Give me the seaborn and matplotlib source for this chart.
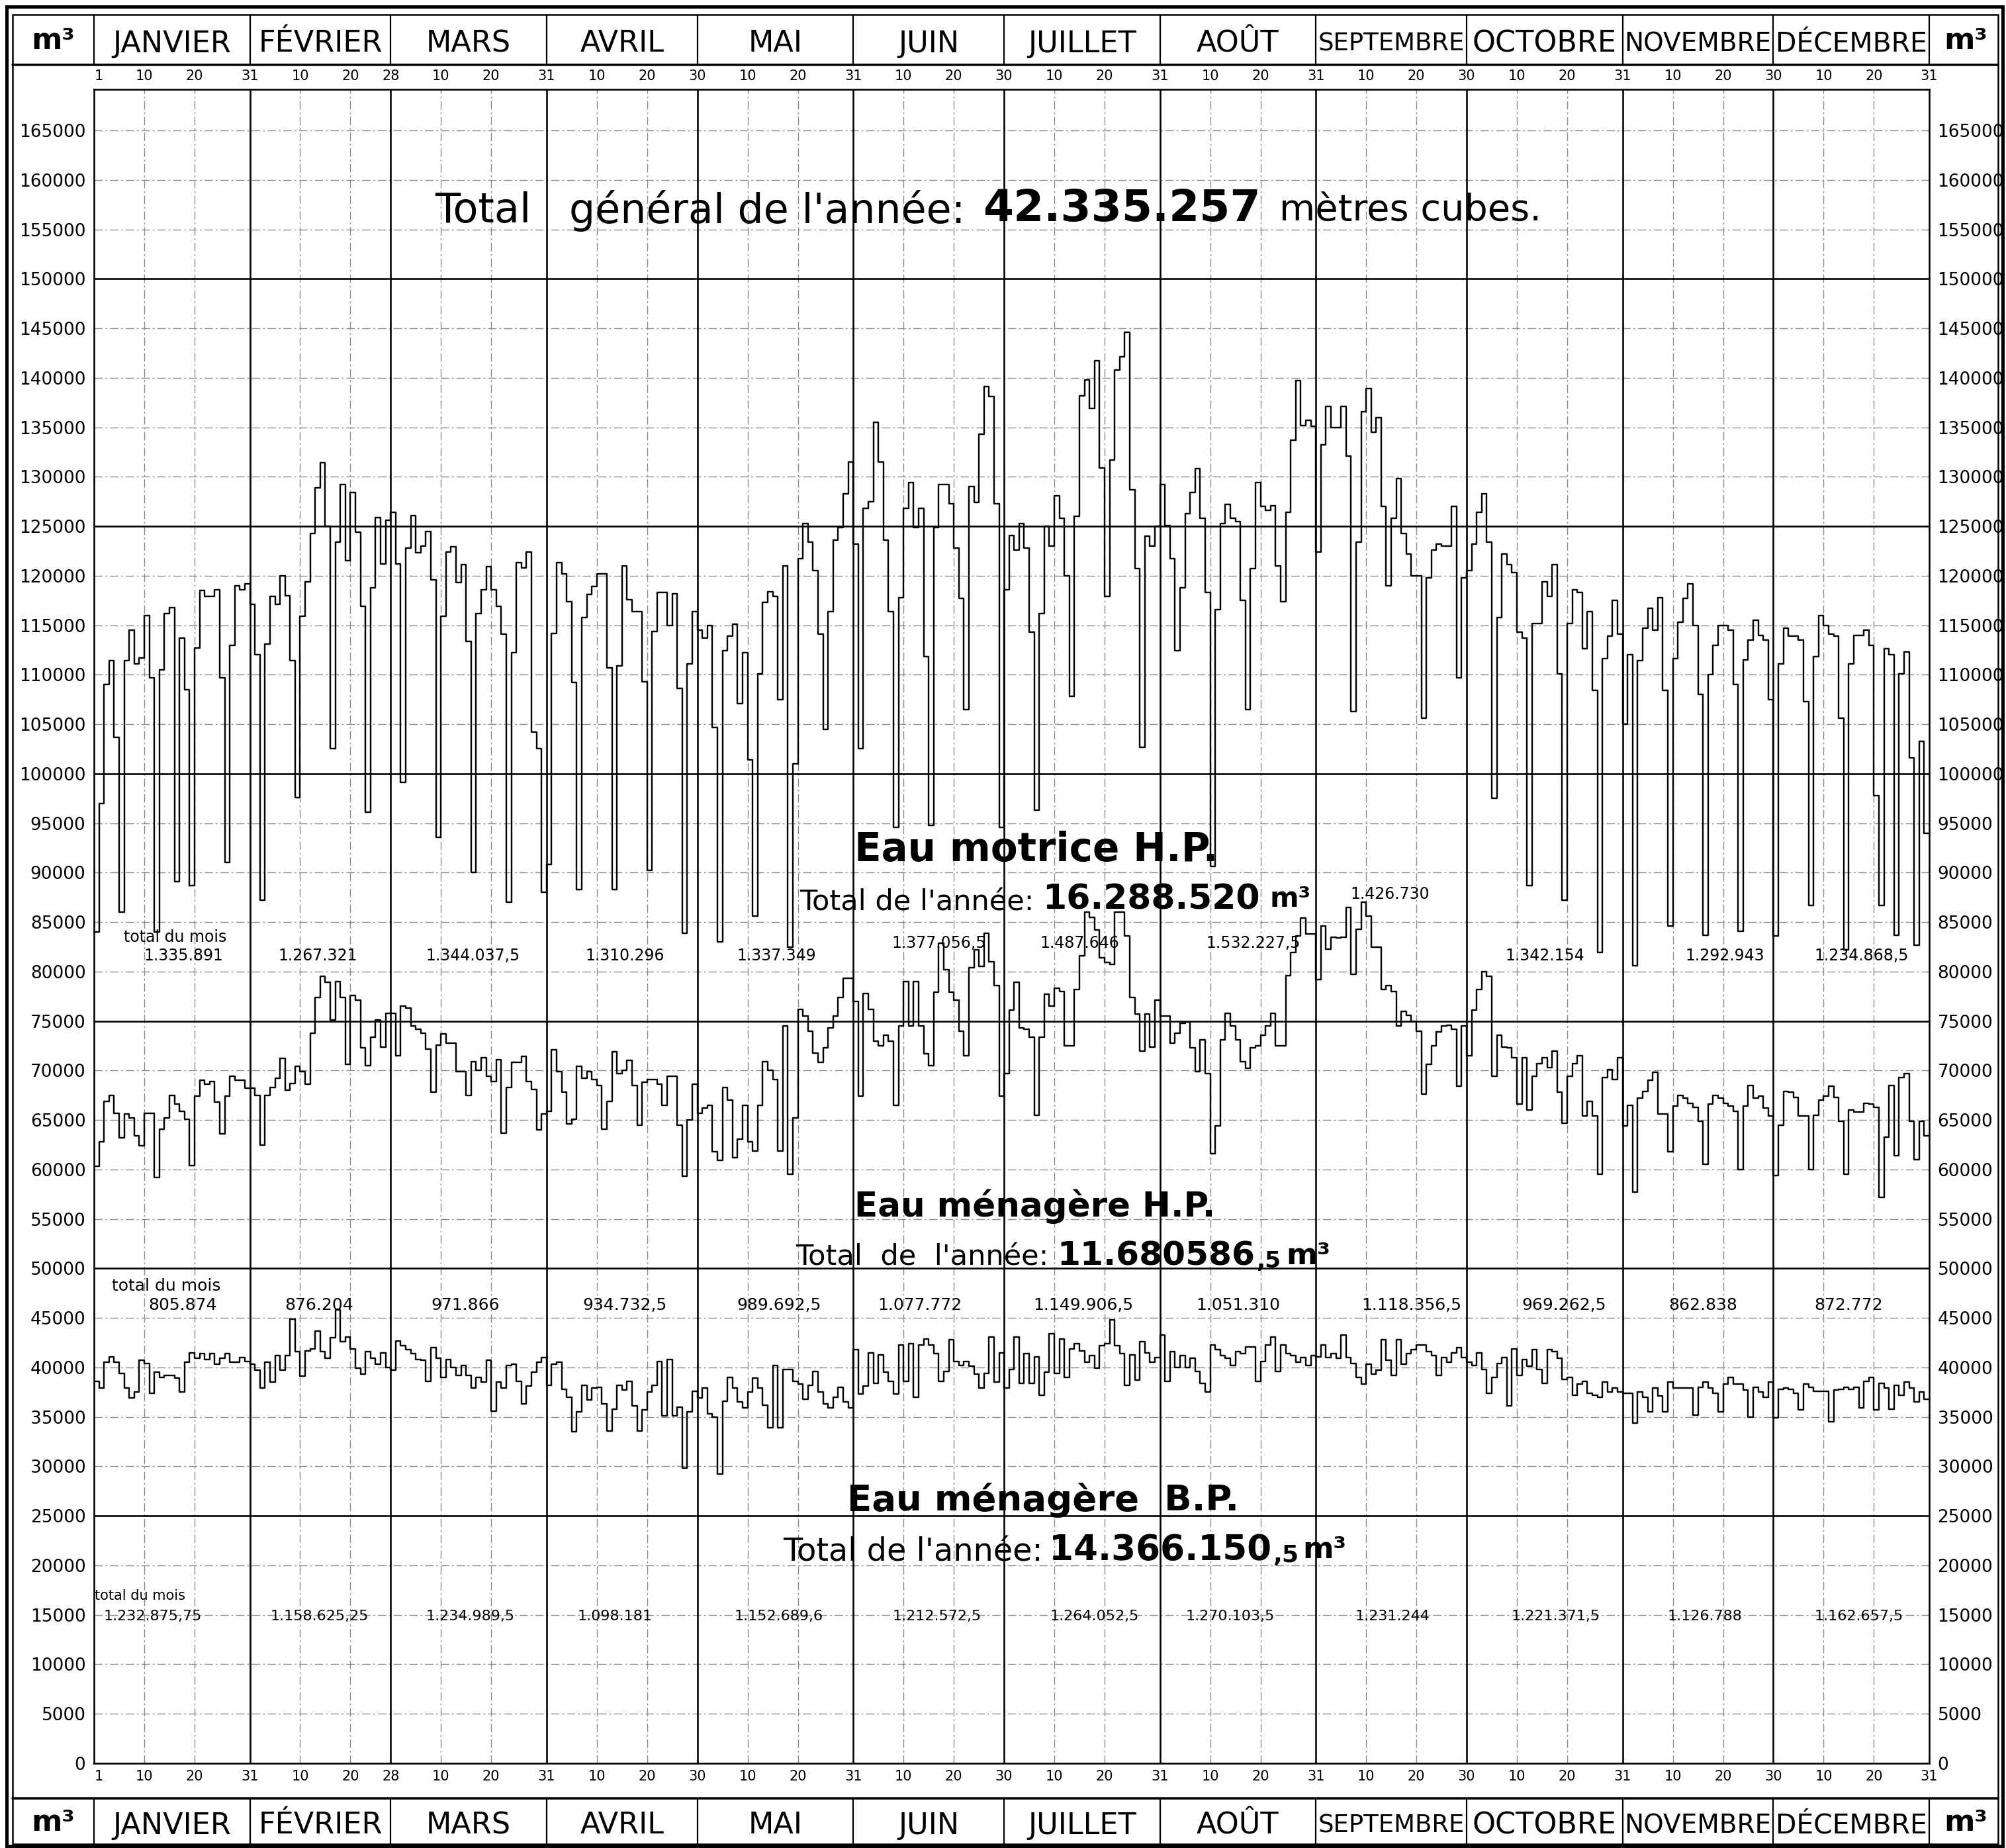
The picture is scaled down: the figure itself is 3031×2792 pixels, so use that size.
import numpy as np
import pandas as pd
import matplotlib
matplotlib.use("Agg")
import matplotlib.pyplot as plt
import matplotlib.transforms as mtransforms
from matplotlib.lines import Line2D
from matplotlib import font_manager
import seaborn as sns

# Consommation journaliere d'eau sous pression sur l'annee (m3 par jour)
mois = ["JANVIER", "FÉVRIER", "MARS", "AVRIL", "MAI", "JUIN",
        "JUILLET", "AOÛT", "SEPTEMBRE", "OCTOBRE", "NOVEMBRE", "DÉCEMBRE"]
jours_mois = [31, 28, 31, 30, 31, 30, 31, 31, 30, 31, 30, 31]

# courbe du haut : total general (milliers de m3), un mois par bloc
total_general = [
    84.0, 97.0, 109.0, 111.4, 103.7, 86.0, 111.4, 114.5, 111.1, 111.7,
    116.0, 109.7, 84.0, 110.5, 116.2, 116.8, 89.1, 113.7, 108.5, 88.7,
    112.7, 118.5, 117.9, 117.9, 118.6, 109.7, 91.0, 113.0, 119.0, 118.6, 119.2,
    117.1, 112.0, 87.2, 113.1, 117.9, 117.1, 120.0, 118.0, 111.4, 97.6,
    115.9, 119.4, 124.3, 128.9, 131.4, 125.0, 102.5, 123.4, 129.2, 121.5,
    128.4, 124.4, 116.9, 96.1, 118.8, 125.9, 121.2, 125.6,
    126.4, 121.2, 99.1, 122.8, 126.1, 122.3, 123.0, 124.5, 119.6, 93.6,
    115.9, 122.4, 122.9, 119.3, 121.1, 113.4, 90.0, 116.2, 118.6, 120.9,
    118.6, 116.9, 114.1, 87.0, 112.2, 121.3, 120.8, 122.4, 104.2, 102.5, 88.0,
    90.8, 114.2, 121.3, 120.2, 117.4, 109.2, 88.3, 115.8, 118.1, 118.9,
    120.2, 120.2, 110.7, 88.3, 110.9, 121.0, 117.6, 116.4, 116.4, 109.3,
    90.2, 114.4, 118.3, 118.3, 115.0, 118.2, 108.6, 83.9, 111.1, 116.4,
    114.5, 113.7, 115.0, 104.7, 83.0, 112.4, 113.9, 115.1, 107.1, 112.2,
    101.4, 85.6, 110.1, 117.3, 118.4, 117.9, 107.5, 121.0, 82.5, 101.0,
    121.7, 125.3, 123.4, 120.5, 114.1, 104.5, 116.4, 123.6, 124.9, 128.3, 131.5,
    123.2, 102.5, 126.8, 127.5, 135.5, 131.5, 123.6, 116.4, 94.6, 117.8,
    126.8, 129.4, 124.9, 126.8, 111.8, 94.8, 124.9, 129.2, 129.2, 127.3,
    122.8, 117.7, 106.5, 129.0, 127.4, 134.3, 139.1, 138.1, 127.3, 94.6,
    118.6, 124.1, 122.6, 125.3, 122.8, 114.3, 96.3, 116.2, 125.0, 123.0,
    128.1, 125.8, 120.0, 107.8, 126.0, 138.2, 139.8, 136.9, 141.7, 130.9,
    117.9, 131.7, 140.8, 142.1, 144.6, 128.7, 120.7, 102.7, 124.0, 123.0, 125.0,
    129.2, 125.1, 121.7, 112.4, 118.8, 126.3, 128.4, 130.8, 125.8, 118.3,
    90.6, 116.6, 125.3, 127.2, 125.8, 125.5, 117.5, 106.5, 120.7, 129.4,
    127.0, 126.6, 127.1, 121.0, 117.4, 126.4, 133.7, 139.7, 135.2, 135.7, 135.1,
    122.4, 133.2, 137.1, 135.0, 135.0, 137.1, 132.1, 106.3, 123.4, 136.6,
    138.9, 134.5, 136.0, 127.0, 119.0, 125.8, 129.8, 124.3, 122.2, 120.0,
    120.0, 105.6, 119.8, 122.6, 123.2, 123.0, 123.0, 127.0, 109.7, 119.8,
    120.5, 123.2, 126.4, 128.3, 123.4, 97.5, 115.8, 122.2, 121.1, 120.3,
    114.3, 113.7, 88.7, 115.2, 115.2, 119.4, 117.9, 121.1, 110.1, 87.2,
    115.2, 118.6, 118.3, 112.6, 116.4, 108.4, 81.9, 111.6, 113.9, 117.5, 114.1,
    105.0, 112.0, 80.6, 111.4, 114.7, 116.7, 114.5, 117.8, 108.4, 84.6,
    111.6, 115.3, 117.7, 119.2, 115.0, 108.0, 83.7, 110.0, 113.0, 115.0,
    115.0, 114.5, 109.0, 84.1, 111.5, 113.5, 115.5, 114.0, 113.5, 107.5,
    83.6, 111.1, 114.7, 113.9, 113.9, 113.5, 107.3, 86.7, 111.8, 116.0,
    115.0, 114.1, 113.9, 105.6, 82.2, 111.1, 114.0, 114.0, 114.5, 113.0,
    97.8, 86.7, 112.6, 112.0, 83.7, 110.1, 112.3, 101.6, 82.7, 103.3, 94.0,
]

# courbe du milieu : eau menagere B.P. + H.P. (milliers de m3)
menagere_cumul = [
    60.3, 62.8, 66.9, 67.5, 65.7, 63.2, 65.6, 65.2, 63.4, 62.4,
    65.7, 65.7, 59.2, 64.1, 65.2, 67.5, 66.6, 65.9, 65.1, 60.4,
    67.4, 69.0, 68.6, 68.9, 66.8, 63.6, 67.4, 69.4, 69.0, 69.0, 68.2,
    68.2, 67.5, 62.5, 67.5, 68.3, 69.2, 71.2, 68.0, 68.7, 70.4,
    69.9, 68.6, 73.8, 77.4, 79.5, 78.9, 75.1, 79.0, 77.4, 70.6,
    77.6, 77.1, 72.3, 70.5, 73.4, 75.1, 72.4, 75.8,
    75.8, 71.5, 76.5, 76.3, 74.5, 74.2, 73.8, 72.2, 67.8, 72.6,
    73.7, 72.8, 72.8, 69.9, 69.9, 67.5, 70.9, 70.0, 71.3, 69.4,
    68.9, 71.1, 63.7, 68.3, 70.8, 70.8, 71.4, 68.9, 68.1, 64.0, 65.6,
    65.9, 72.1, 69.9, 67.8, 64.6, 65.1, 70.4, 69.2, 69.9, 69.1,
    68.5, 64.1, 66.9, 71.9, 69.7, 70.0, 71.0, 68.5, 64.5, 68.8,
    69.1, 69.1, 68.6, 66.5, 69.4, 69.4, 64.5, 59.3, 65.0, 68.6,
    65.7, 66.2, 66.5, 61.8, 60.9, 68.3, 67.0, 61.2, 63.1, 66.5,
    62.8, 61.9, 66.5, 70.9, 70.0, 69.1, 61.9, 74.5, 59.5, 65.2,
    76.2, 75.5, 74.0, 71.8, 70.8, 72.3, 74.3, 75.5, 77.4, 79.3, 79.3,
    77.0, 67.4, 77.8, 76.2, 73.0, 72.5, 73.6, 73.0, 66.5, 74.5,
    79.0, 74.5, 79.0, 74.5, 71.7, 70.5, 77.9, 82.9, 80.2, 77.9,
    77.1, 74.0, 71.5, 80.4, 82.2, 80.5, 83.9, 81.0, 78.6, 67.4,
    69.7, 76.1, 78.9, 74.3, 74.2, 73.4, 65.5, 73.4, 77.7, 76.5,
    78.3, 78.0, 72.5, 72.5, 78.2, 81.6, 86.0, 85.5, 84.2, 81.4,
    80.9, 80.7, 86.0, 86.0, 83.6, 77.4, 75.7, 72.0, 75.7, 72.4, 77.1,
    75.5, 75.5, 72.8, 73.8, 74.8, 74.9, 72.3, 69.9, 73.1, 69.7,
    61.6, 64.4, 73.1, 75.8, 74.5, 73.1, 70.9, 70.2, 72.3, 72.5,
    73.6, 74.5, 75.8, 72.5, 72.5, 79.6, 81.9, 83.6, 85.4, 83.8, 83.8,
    79.2, 84.6, 82.3, 83.5, 83.4, 83.5, 86.5, 79.7, 84.3, 87.0,
    85.6, 82.5, 82.5, 78.2, 78.6, 78.0, 74.5, 76.0, 75.6, 75.0,
    74.0, 67.6, 70.6, 72.5, 73.9, 74.5, 74.6, 74.2, 68.4, 74.5,
    71.5, 76.1, 78.2, 80.0, 79.5, 69.4, 73.6, 72.4, 72.3, 71.3,
    66.6, 71.3, 66.0, 69.4, 70.7, 71.3, 70.3, 72.0, 67.8, 64.7,
    69.4, 70.7, 71.5, 65.4, 66.9, 65.4, 59.5, 69.3, 70.1, 69.1, 71.3,
    64.4, 66.5, 57.7, 67.2, 67.9, 69.0, 69.8, 65.6, 65.6, 61.8,
    66.4, 67.5, 67.2, 66.7, 66.3, 64.9, 60.5, 66.6, 67.5, 67.2,
    66.7, 66.4, 65.9, 60.0, 66.4, 68.5, 67.2, 67.4, 66.2, 65.4,
    59.4, 64.5, 67.9, 67.8, 67.3, 65.4, 65.4, 60.0, 65.5, 67.0,
    67.4, 68.4, 67.3, 64.9, 59.5, 66.0, 65.8, 65.8, 66.7, 66.6,
    66.3, 57.2, 63.3, 68.5, 61.4, 69.3, 69.7, 64.9, 61.0, 64.9, 63.4,
]

# courbe du bas : eau menagere B.P. (milliers de m3)
menagere_bp = [
    38.6, 37.9, 40.5, 41.1, 40.5, 39.4, 37.9, 36.9, 37.5, 40.7,
    40.4, 37.4, 39.5, 39.0, 39.2, 39.2, 38.9, 37.5, 40.5, 41.5,
    40.9, 41.4, 40.8, 41.4, 40.3, 40.9, 41.4, 40.5, 40.5, 41.0, 40.6,
    40.3, 39.7, 37.9, 40.5, 38.5, 41.2, 39.7, 41.2, 44.9, 41.6,
    39.1, 41.7, 41.9, 43.7, 41.6, 40.9, 43.0, 45.8, 42.6, 43.1,
    41.9, 39.9, 39.3, 41.6, 40.9, 40.3, 41.5, 40.0,
    39.7, 42.7, 42.2, 41.8, 41.4, 40.8, 40.7, 38.6, 42.0, 40.9,
    39.0, 40.8, 40.0, 39.2, 40.2, 39.2, 37.9, 39.0, 38.5, 40.7,
    35.6, 38.5, 37.9, 40.2, 40.3, 38.6, 36.3, 38.1, 39.5, 40.5, 41.0,
    38.2, 40.3, 40.5, 37.8, 37.0, 33.5, 35.5, 38.2, 36.7, 37.9,
    38.0, 36.3, 33.6, 35.8, 38.2, 37.7, 38.6, 36.1, 33.6, 35.7,
    37.5, 38.2, 40.6, 35.1, 40.8, 35.1, 36.0, 29.8, 35.5, 37.6,
    36.9, 37.9, 35.3, 35.0, 29.2, 36.6, 39.0, 37.9, 36.5, 35.9,
    37.5, 38.9, 37.9, 36.2, 33.9, 40.2, 33.9, 39.8, 39.8, 38.6,
    38.3, 36.8, 38.2, 39.6, 37.5, 36.3, 35.9, 37.0, 38.0, 36.5, 35.9,
    41.8, 37.3, 38.1, 41.5, 38.4, 41.3, 39.5, 38.6, 37.3, 42.3,
    38.6, 42.4, 37.0, 42.3, 42.9, 42.3, 41.4, 38.6, 39.6, 42.8,
    40.6, 40.2, 40.6, 40.1, 39.3, 37.9, 39.4, 43.1, 38.5, 41.5,
    37.9, 39.8, 43.1, 38.4, 41.4, 38.4, 41.1, 37.2, 39.5, 43.4,
    39.4, 42.9, 39.0, 41.9, 42.4, 41.7, 40.5, 41.2, 39.9, 42.2,
    42.4, 44.8, 42.2, 41.4, 38.2, 41.3, 38.7, 42.6, 41.5, 40.5, 41.0,
    43.3, 38.6, 41.6, 40.0, 41.2, 40.0, 40.9, 39.6, 38.4, 37.5,
    42.3, 41.8, 41.2, 40.9, 40.2, 41.6, 41.4, 42.1, 42.1, 38.6,
    40.6, 42.3, 43.1, 39.6, 42.3, 41.4, 41.2, 40.5, 41.0, 40.2, 41.2,
    41.1, 42.3, 41.0, 41.4, 40.9, 43.3, 41.0, 40.4, 39.0, 38.3,
    40.3, 39.3, 39.7, 42.8, 40.7, 39.2, 42.8, 40.3, 41.4, 41.8,
    42.3, 42.3, 41.6, 41.2, 39.2, 41.0, 40.5, 41.5, 42.0, 41.0,
    40.5, 40.2, 41.5, 39.8, 37.4, 39.0, 40.4, 41.0, 36.1, 41.9,
    39.2, 40.8, 40.1, 41.8, 39.8, 38.4, 41.8, 41.6, 40.9, 38.8,
    39.0, 37.2, 38.3, 38.6, 37.4, 37.2, 37.0, 38.5, 37.5, 37.9, 37.5,
    37.4, 37.4, 34.4, 37.5, 37.0, 35.5, 37.9, 37.1, 35.5, 38.5,
    37.9, 37.9, 37.9, 37.9, 35.2, 38.0, 38.5, 37.9, 37.4, 35.5,
    38.3, 39.0, 38.3, 38.3, 37.7, 35.0, 38.0, 37.5, 37.0, 38.5,
    34.9, 37.8, 37.9, 37.8, 37.4, 35.7, 38.3, 38.0, 37.6, 37.6,
    37.6, 34.5, 37.7, 37.8, 38.0, 37.8, 38.0, 35.9, 38.6, 39.0,
    35.7, 38.4, 37.9, 35.8, 38.2, 37.2, 38.5, 37.9, 36.5, 37.5, 36.8,
]

# totaux du mois ecrits sur le graphique
total_mois_motrice = ["1.335.891", "1.267.321", "1.344.037,5", "1.310.296", "1.337.349", "1.377.056,5",
                      "1.487.646", "1.532.227,5", "1.426.730", "1.342.154", "1.292.943", "1.234.868,5"]
total_mois_menagere_hp = ["805.874", "876.204", "971.866", "934.732,5", "989.692,5", "1.077.772",
                          "1.149.906,5", "1.051.310", "1.118.356,5", "969.262,5", "862.838", "872.772"]
total_mois_menagere_bp = ["1.232.875,75", "1.158.625,25", "1.234.989,5", "1.098.181", "1.152.689,6", "1.212.572,5",
                          "1.264.052,5", "1.270.103,5", "1.231.244", "1.221.371,5", "1.126.788", "1.162.657,5"]

# emplacement des totaux (jour de l'annee, m3)
x_motrice = [17.8, 44.5, 75.4, 105.6, 135.7, 168.0, 196.0, 230.6, 257.8, 288.6, 324.3, 351.5]
y_motrice = [81600] * 5 + [82900] * 3 + [87800] + [81600] * 3
x_hp = [17.6, 44.8, 73.9, 105.6, 136.2, 164.2, 196.7, 227.5, 262.0, 292.4, 320.0, 349.0]
x_bp = [11.7, 44.8, 74.8, 103.6, 136.2, 167.7, 199.0, 226.0, 258.3, 290.7, 320.4, 351.0]

W, H = 3031, 2792
AX_L, AX_R, AX_T, AX_B = 142, 2915, 135, 2664
Y_MAX = 169150

sns.set_theme(style="white")
plt.rcParams["font.family"] = ["DejaVu Sans"]
plt.rcParams["text.color"] = "black"
plt.rcParams["xtick.color"] = "black"
plt.rcParams["ytick.color"] = "black"
dispo = {f.name for f in font_manager.fontManager.ttflist}
etroite = "Liberation Sans Narrow" if "Liberation Sans Narrow" in dispo else "DejaVu Sans"


def fx(px):
    return px / W


def fy(py):
    return 1 - py / H


def lw(px):
    return px * 72 / 100


fig = plt.figure(figsize=(W / 100, H / 100), dpi=100)
fig.patch.set_facecolor("white")
ax = fig.add_axes([fx(AX_L), fy(AX_B), fx(AX_R) - fx(AX_L), fy(AX_T) - fy(AX_B)])

jours = np.arange(366)
frames = []
for nom, vals in [("total", total_general), ("menagere", menagere_cumul), ("bp", menagere_bp)]:
    v = np.array(vals) * 1000
    assert len(v) == 365, (nom, len(v))
    frames.append(pd.DataFrame({"jour": jours, "m3": np.append(v, v[-1]), "courbe": nom}))
df = pd.concat(frames, ignore_index=True)

# grille
debuts = np.cumsum([0] + jours_mois)
grille = dict(color="0.55", lw=lw(1.4), ls=(0, (9, 3, 2, 3)), zorder=1)
for d in debuts[:-1]:
    ax.axvline(d + 10, **grille)
    ax.axvline(d + 20, **grille)
for d in debuts[1:-1]:
    ax.axvline(d, color="black", lw=lw(2.6), zorder=2)
for v in range(5000, 170000, 5000):
    if v % 25000 == 0:
        ax.axhline(v, color="black", lw=lw(2.6), zorder=2)
    else:
        ax.axhline(v, **grille)

sns.lineplot(data=df, x="jour", y="m3", units="courbe", estimator=None, color="black",
             lw=lw(2.4), drawstyle="steps-post", legend=False, ax=ax, zorder=3)
ax.set_xlabel("")
ax.set_ylabel("")

for s in ax.spines.values():
    s.set_color("black")
    s.set_linewidth(lw(2.6))

pos, lab = [1], ["1"]
for d, n in zip(debuts[:-1], jours_mois):
    pos += [d + 10, d + 20, d + n]
    lab += ["10", "20", str(n)]
ax.set_xticks(pos)
ax.set_xticklabels(lab)
ax.tick_params(axis="x", length=0, top=True, labeltop=True, bottom=True, labelbottom=True,
               labelsize=15, pad=7, labelcolor="black")

yt = np.arange(0, 170000, 5000)
ax.set_yticks(yt)
ax.set_yticklabels([str(v) for v in yt])
ax.tick_params(axis="y", length=0, left=True, right=True, labelleft=True, labelright=True,
               labelsize=22 if etroite != "DejaVu Sans" else 19, pad=9, labelcolor="black")
for t in ax.yaxis.get_major_ticks():
    t.label1.set_fontfamily(etroite)
    t.label2.set_fontfamily(etroite)

ax.set_xlim(0, 365)
ax.set_ylim(0, Y_MAX)

renderer = fig.canvas.get_renderer()


def ajuste(t, largeur, seulement_reduire=False):
    w = t.get_window_extent(renderer).width
    if seulement_reduire and w <= largeur:
        return
    t.set_fontsize(t.get_fontsize() * largeur / w)


# en-tetes des mois (haut et bas)
trans = mtransforms.blended_transform_factory(ax.transData, fig.transFigure)
for y0, y1, yt_ in [(23, 98, 66), (2717, 2786, 2758)]:
    for d in debuts:
        ax.plot([d, d], [fy(y0), fy(y1)], transform=trans, color="black", lw=lw(2.2), clip_on=False)
    for d, n, m in zip(debuts[:-1], jours_mois, mois):
        t = ax.text(d + n / 2, fy(yt_), m, transform=trans, ha="center", va="center", fontsize=32)
        ajuste(t, n * 7.6 - 6, seulement_reduire=True)
    fig.text(fx(80), fy(yt_ - 4), "m³", ha="center", va="center", fontsize=32, fontweight="bold")
    fig.text(fx(2970), fy(yt_ - 4), "m³", ha="center", va="center", fontsize=32, fontweight="bold")

for y in (98, 2717):
    fig.add_artist(Line2D([fx(19), fx(3019)], [fy(y), fy(y)], color="black", lw=lw(3.5)))
for x0, y0, x1, y1, w in [(10, 10, 3026, 2789, 5), (19, 22, 3019, 2786, 2.5)]:
    fig.add_artist(plt.Rectangle((fx(x0), fy(y1)), fx(x1) - fx(x0), fy(y0) - fy(y1), fill=False,
                                 lw=lw(w), ec="black", transform=fig.transFigure))


def piece(s, x0, x1, y, gras=False, fam="DejaVu Sans"):
    t = fig.text(fx(x0), fy(y), s, ha="left", va="center", fontsize=30,
                 fontweight="bold" if gras else "normal", family=fam)
    ajuste(t, x1 - x0)
    return t


# titre general
piece("Total", 657, 802, 319)
piece("général de l'année:", 860, 1459, 319)
piece("42.335.257", 1485, 1904, 316, gras=True)
piece("mètres cubes.", 1933, 2329, 319)

# eau motrice
piece("Eau motrice H.P.", 1291, 1840, 1285, gras=True)
piece("Total de l'année:", 1208, 1562, 1363, fam=etroite)
piece("16.288.520", 1575, 1904, 1360, gras=True)
piece("m³", 1919, 1981, 1358, gras=True)

# eau menagere H.P.
piece("Eau ménagère H.P.", 1291, 1836, 1823, gras=True)
piece("Total  de  l'année:", 1202, 1585, 1900, fam=etroite)
piece("11.680586", 1597, 1896, 1897, gras=True)
piece(",5", 1898, 1935, 1905, gras=True)
piece("m³", 1943, 2010, 1897, gras=True)

# eau menagere B.P.
piece("Eau ménagère  B.P.", 1280, 1871, 2267, gras=True)
piece("Total de l'année:", 1183, 1575, 2345, fam=etroite)
piece("14.366.150", 1585, 1921, 2342, gras=True)
piece(",5", 1923, 1962, 2350, gras=True)
piece("m³", 1968, 2034, 2342, gras=True)

# totaux mensuels
for x, y, s in zip(x_motrice, y_motrice, total_mois_motrice):
    ax.text(x, y, s, ha="center", va="center", fontsize=17, zorder=4)
for x, s in zip(x_hp, total_mois_menagere_hp):
    ax.text(x, 46300, s, ha="center", va="center", fontsize=18, zorder=4)
for x, s in zip(x_bp, total_mois_menagere_bp):
    ax.text(x, 14870, s, ha="center", va="center", fontsize=16, zorder=4)
ax.text(16.2, 83500, "total du mois", ha="center", va="center", fontsize=17, zorder=4)
ax.text(14.4, 48230, "total du mois", ha="center", va="center", fontsize=18, zorder=4)
ax.text(9.2, 16940, "total du mois", ha="center", va="center", fontsize=15, zorder=4)

fig.savefig("out.png", dpi=100, facecolor="white")
